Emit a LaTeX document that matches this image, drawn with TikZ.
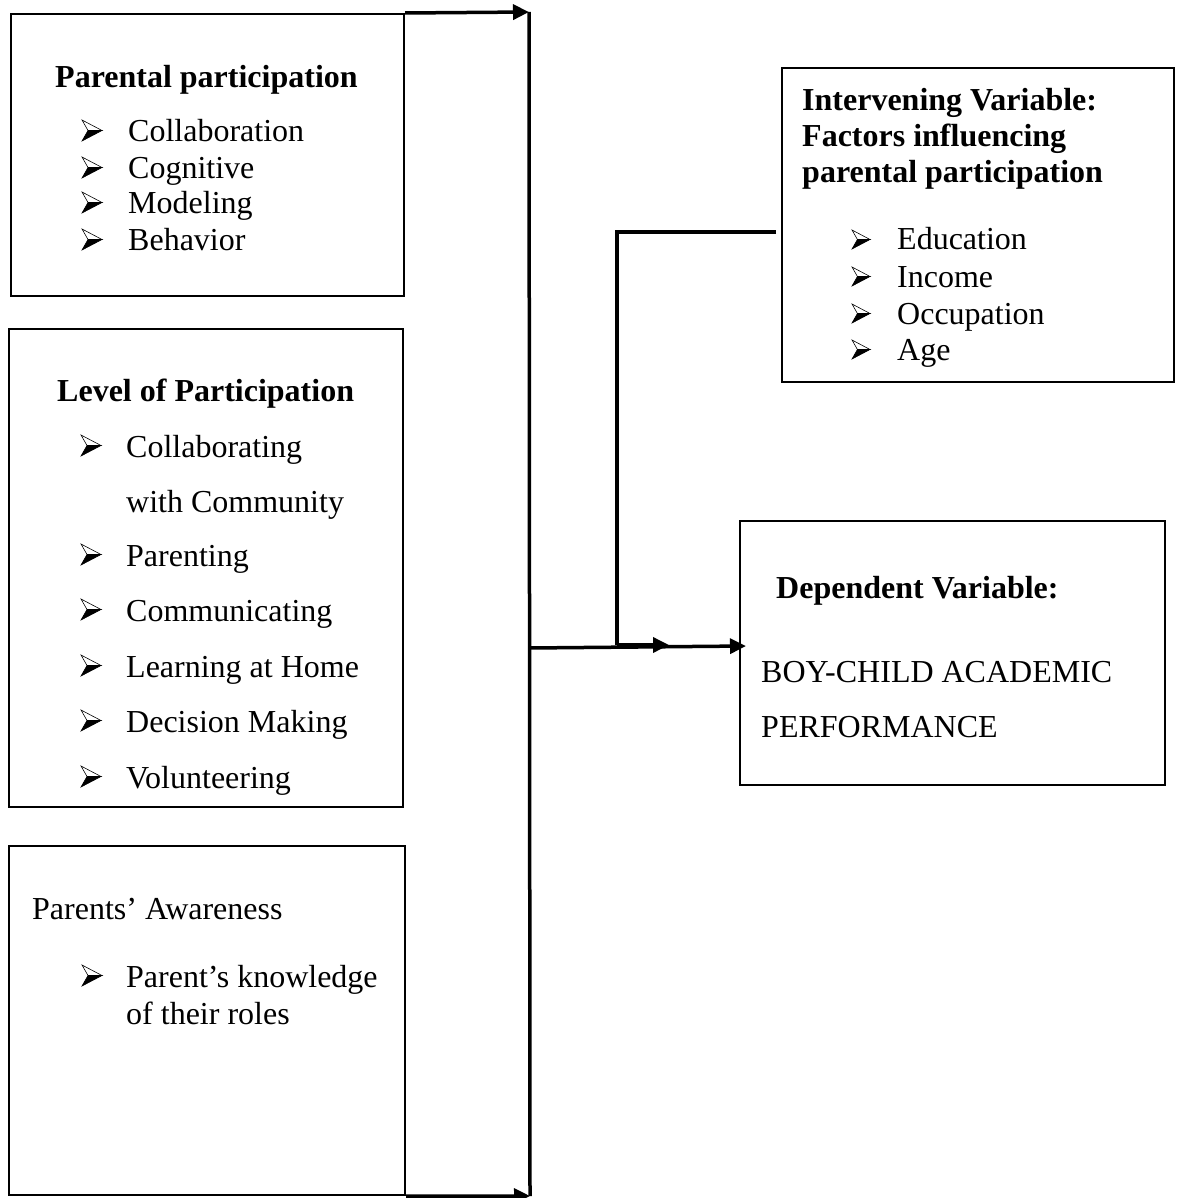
\documentclass[tikz,border=0pt]{standalone}
\usepackage{fontspec}
\setmainfont{Liberation Serif}
\usetikzlibrary{arrows.meta}
\begin{document}
\begin{tikzpicture}[x=1pt,y=-1pt,
  box/.style={draw,line width=2.2pt,anchor=north west,inner sep=0pt},
  txt/.style={anchor=base west,inner sep=0pt,font=\fontsize{32}{37}\selectfont},
  hd/.style={txt,font=\fontsize{32}{37}\selectfont\bfseries},
  link/.style={line width=3.5pt},
  arr/.style={line width=3.5pt,-{Triangle[length=16pt,width=15pt]}},
  bulpic/.pic={
    \filldraw[line width=0.6pt,line join=miter] (0,0) -- (1,-0.5) -- (0.3,-0.5) -- cycle;
    \draw[line width=0.6pt,line join=miter,fill=white] (0,-1) -- (1,-0.5) -- (0.3,-0.5) -- cycle;
  },
  bsz/.style={xscale=20,yscale=21},
  bszi/.style={xscale=18,yscale=19}]
\useasboundingbox (0,0) rectangle (1180,1198);
% boxes
\node[box,minimum width=393pt,minimum height=282pt] (pp) at (10,13) {};
\node[box,minimum width=394pt,minimum height=478pt] (lp) at (8,328) {};
\node[box,minimum width=396pt,minimum height=349pt] (pa) at (8,845) {};
\node[box,minimum width=392pt,minimum height=314pt] (iv) at (781,67) {};
\node[box,minimum width=425pt,minimum height=264pt] (dv) at (739,520) {};
% box 1
\node[hd] (pph) at (55,88) {Parental participation};
\pic[bsz] at (82,141) {bulpic}; \node[txt] (pt1) at (128,142) {Collaboration};
\pic[bsz] at (82,178) {bulpic}; \node[txt] (pt2) at (128,179) {Cognitive};
\pic[bsz] at (82,213) {bulpic}; \node[txt] (pt3) at (128,214) {Modeling};
\pic[bsz] at (82,250) {bulpic}; \node[txt] (pt4) at (128,251) {Behavior};
% box 2
\node[hd] (lph) at (57,401) {Level of Participation};
\pic[bsz] at (81,456) {bulpic}; \node[txt] (lt1) at (126,457) {Collaborating};
\node[txt] (lt1b) at (126,512) {with Community};
\pic[bsz] at (81,565) {bulpic}; \node[txt] (lt2) at (126,566) {Parenting};
\pic[bsz] at (81,620) {bulpic}; \node[txt] (lt3) at (126,621) {Communicating};
\pic[bsz] at (81,676) {bulpic}; \node[txt] (lt4) at (126,677) {Learning at Home};
\pic[bsz] at (81,731) {bulpic}; \node[txt] (lt5) at (126,732) {Decision Making};
\pic[bsz] at (81,787) {bulpic}; \node[txt] (lt6) at (126,788) {Volunteering};
% box 3
\node[txt] (pah) at (32,919) {Parents’ Awareness};
\pic[bsz] at (82,986) {bulpic}; \node[txt] (at1) at (126,987) {Parent’s knowledge};
\node[txt] (at1b) at (126,1024) {of their roles};
% intervening
\node[hd] (ivh1) at (802,111) {Intervening Variable:};
\node[hd] (ivh2) at (802,147) {Factors influencing};
\node[hd] (ivh3) at (802,183) {parental participation};
\pic[bszi] at (852,249) {bulpic}; \node[txt] (it1) at (897,250) {Education};
\pic[bszi] at (852,286) {bulpic}; \node[txt] (it2) at (897,287) {Income};
\pic[bszi] at (852,323) {bulpic}; \node[txt] (it3) at (897,324) {Occupation};
\pic[bszi] at (852,359) {bulpic}; \node[txt] (it4) at (897,360) {Age};
% dependent
\node[hd] (dvh) at (776,598) {Dependent Variable:};
\node[txt] (dvt1) at (761,682) {BOY-CHILD ACADEMIC};
\node[txt] (dvt2) at (761,737) {PERFORMANCE};
% connectors
\coordinate (vt) at (529,12);
\coordinate (vb) at (530,1196);
\coordinate (vm) at (529,648);
\coordinate (dvin) at (746,646);
\coordinate (ivout) at (776,232);
\coordinate (ivc1) at (617,232);
\coordinate (ivc2) at (617,645);
\coordinate (ivtip) at (669,645);
\draw[link] (vt) -- (vb);
\draw[arr] (pp.north east) -- (vt);
\draw[arr] (pa.south east) -- (vb);
\draw[arr] (vm) -- (dvin);
\draw[link] (ivout) -- (ivc1) -- (ivc2);
\draw[arr] (ivc2) -- (ivtip);
\end{tikzpicture}
\end{document}
